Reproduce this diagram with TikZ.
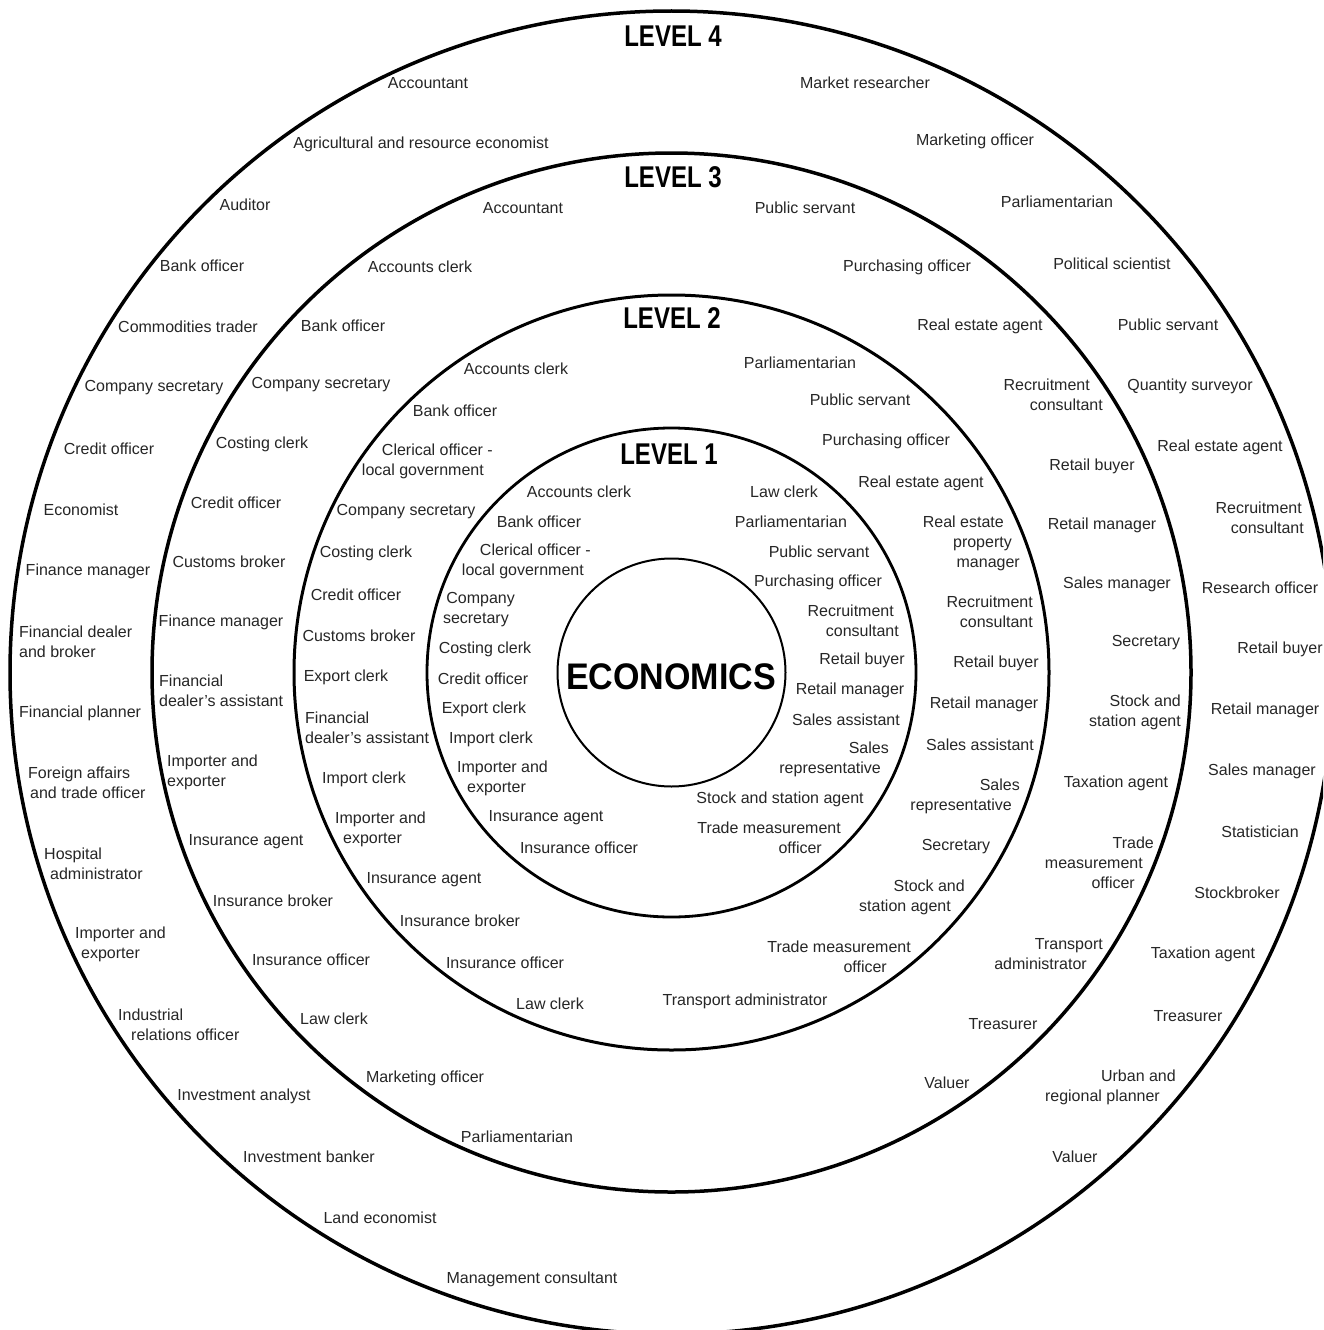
\documentclass[tikz,border=0pt]{standalone}
\usepackage{fontspec}
\usepackage{graphicx}
\setmainfont{Liberation Sans}
\tikzset{
  lab/.style={font=\fontsize{16}{20}\selectfont, inner sep=0pt, text=black!85},
  labl/.style={lab, anchor=west, align=left},
  labr/.style={lab, anchor=east, align=right},
  lvl/.style={font=\bfseries\fontsize{30}{30}\selectfont, inner sep=0pt},
  ring/.style={draw=black},
}
\newcommand{\lvltext}[1]{\scalebox{0.8}[1]{#1}}
\newcommand{\rpad}[2]{\mbox{#2\hspace{#1}}}
\newcommand{\lpad}[2]{\mbox{\hspace{#1}#2}}
\begin{document}
\begin{tikzpicture}[x=1pt,y=-1pt]
\useasboundingbox (0,0) rectangle (1323,1330);
\clip (0,0) rectangle (1323,1330);
\fill[white] (0,0) rectangle (1323,1330);
\coordinate (O) at (671.5,672.5);
% rings
\draw[ring, line width=3.5pt] (O) circle (661.5);
\draw[ring, line width=3.5pt] (O) circle (519.5);
\draw[ring, line width=3pt] (O) circle (377.5);
\draw[ring, line width=2.8pt] (O) circle (244.5);
\draw[ring, line width=2pt] (O) circle (114);
% headings
\node[lvl] (lv4) at (673,36) {\lvltext{LEVEL 4}};
\node[lvl] (lv3) at (673,177) {\lvltext{LEVEL 3}};
\node[lvl] (lv2) at (672,318) {\lvltext{LEVEL 2}};
\node[lvl] (lv1) at (669,454) {\lvltext{LEVEL 1}};
\node[font=\bfseries\fontsize{37}{37}\selectfont, inner sep=0pt] (econ) at (671,677) {\scalebox{0.92}[1]{ECONOMICS}};
% ---------- Level 4 left
\node[lab] (a1) at (428,83) {Accountant};
\node[lab] (a2) at (421,144) {Agricultural and resource economist};
\node[lab] (a3) at (245,205) {Auditor};
\node[lab] (a4) at (202,266) {Bank officer};
\node[lab] (a5) at (188,327) {Commodities trader};
\node[lab] (a6) at (154,388) {Company secretary};
\node[lab] (a7) at (109,449) {Credit officer};
\node[lab] (a8) at (81,510) {Economist};
\node[lab] (a9) at (88,571) {Finance manager};
\node[labl] (a10) at (19,642) {Financial dealer\\and broker};
\node[labl] (a11) at (19,713) {Financial planner};
\node[labl] (a12) at (28,783) {Foreign affairs\\\lpad{2pt}{and trade officer}};
\node[labl] (a13) at (44,864) {Hospital\\\lpad{6pt}{administrator}};
\node[labl] (a14) at (75,944) {Importer and\\\lpad{6pt}{exporter}};
\node[labl] (a15) at (118,1025) {Industrial\\\lpad{13pt}{relations officer}};
\node[lab] (a16) at (244,1096) {Investment analyst};
\node[lab] (a17) at (309,1157) {Investment banker};
\node[lab] (a18) at (380,1218) {Land economist};
\node[lab] (a19) at (532,1279) {Management consultant};
% ---------- Level 4 right
\node[lab] (b1) at (865,83) {Market researcher};
\node[lab] (b2) at (975,141) {Marketing officer};
\node[lab] (b3) at (1057,202) {Parliamentarian};
\node[lab] (b4) at (1112,264) {Political scientist};
\node[lab] (b5) at (1168,325) {Public servant};
\node[lab] (b6) at (1190,386) {Quantity surveyor};
\node[lab] (b7) at (1220,447) {Real estate agent};
\node[labr] (b8) at (1304,518) {\rpad{2pt}{Recruitment}\\consultant};
\node[lab] (b9) at (1260,588) {Research officer};
\node[lab] (b10) at (1280,649) {Retail buyer};
\node[lab] (b11) at (1265,710) {Retail manager};
\node[lab] (b12) at (1262,771) {Sales manager};
\node[lab] (b13) at (1260,832) {Statistician};
\node[lab] (b14) at (1237,893) {Stockbroker};
\node[lab] (b15) at (1203,954) {Taxation agent};
\node[lab] (b16) at (1188,1016) {Treasurer};
\node[labr] (b17) at (1176,1087) {Urban and\\\rpad{16pt}{regional planner}};
\node[lab] (b18) at (1075,1157) {Valuer};
% ---------- Level 3 left
\node[lab] (c1) at (523,208) {Accountant};
\node[lab] (c2) at (420,267) {Accounts clerk};
\node[lab] (c3) at (343,326) {Bank officer};
\node[lab] (c4) at (321,385) {Company secretary};
\node[lab] (c5) at (262,444) {Costing clerk};
\node[lab] (c6) at (236,503) {Credit officer};
\node[lab] (c7) at (229,562) {Customs broker};
\node[lab] (c8) at (221,622) {Finance manager};
\node[labl] (c9) at (159,691) {Financial\\dealer’s assistant};
\node[labl] (c10) at (167,772) {Importer and\\exporter};
\node[lab] (c11) at (246,842) {Insurance agent};
\node[lab] (c12) at (273,901) {Insurance broker};
\node[lab] (c13) at (311,960) {Insurance officer};
\node[lab] (c14) at (334,1019) {Law clerk};
\node[lab] (c15) at (425,1078) {Marketing officer};
\node[lab] (c16) at (517,1137) {Parliamentarian};
% ---------- Level 3 right
\node[lab] (d1) at (805,208) {Public servant};
\node[lab] (d2) at (907,267) {Purchasing officer};
\node[lab] (d3) at (980,326) {Real estate agent};
\node[labr] (d4) at (1103,395) {\rpad{13pt}{Recruitment}\\consultant};
\node[lab] (d5) at (1092,466) {Retail buyer};
\node[lab] (d6) at (1102,525) {Retail manager};
\node[lab] (d7) at (1117,584) {Sales manager};
\node[lab] (d8) at (1146,643) {Secretary};
\node[labr] (d9) at (1181,712) {Stock and\\station agent};
\node[lab] (d10) at (1116,783) {Taxation agent};
\node[labr] (d11) at (1154,863) {Trade\\\rpad{11pt}{measurement}\\\rpad{19pt}{officer}};
\node[labr] (d12) at (1103,954) {Transport\\\rpad{16pt}{administrator}};
\node[lab] (d13) at (1003,1024) {Treasurer};
\node[lab] (d14) at (947,1083) {Valuer};
% ---------- Level 2 left
\node[lab] (e1) at (516,369) {Accounts clerk};
\node[lab] (e2) at (455,411) {Bank officer};
\node[labr] (e3) at (493,461) {Clerical officer -\\\rpad{9pt}{local government}};
\node[lab] (e4) at (406,512) {Company secretary};
\node[lab] (e5) at (366,553) {Costing clerk};
\node[lab] (e6) at (356,595) {Credit officer};
\node[lab] (e7) at (359,636) {Customs broker};
\node[lab] (e8) at (346,677) {Export clerk};
\node[labl] (e9) at (305,728) {Financial\\dealer’s assistant};
\node[lab] (e10) at (364,779) {Import clerk};
\node[labl] (e11) at (335,829) {Importer and\\\lpad{8pt}{exporter}};
\node[lab] (e12) at (424,880) {Insurance agent};
\node[lab] (e13) at (460,921) {Insurance broker};
\node[lab] (e14) at (505,963) {Insurance officer};
\node[lab] (e15) at (550,1004) {Law clerk};
% ---------- Level 2 right
\node[lab] (f1) at (800,363) {Parliamentarian};
\node[lab] (f2) at (860,400) {Public servant};
\node[lab] (f3) at (886,441) {Purchasing officer};
\node[lab] (f4) at (921,483) {Real estate agent};
\node[labr] (f5) at (1020,543) {\rpad{16pt}{Real estate}\\\rpad{8pt}{property}\\manager};
\node[labr] (f6) at (1033,612) {Recruitment\\consultant};
\node[lab] (f7) at (996,663) {Retail buyer};
\node[lab] (f8) at (984,704) {Retail manager};
\node[lab] (f9) at (980,745) {Sales assistant};
\node[labr] (f10) at (1020,796) {Sales\\\rpad{8pt}{representative}};
\node[lab] (f11) at (956,847) {Secretary};
\node[labr] (f12) at (965,897) {Stock and\\\rpad{14pt}{station agent}};
\node[labr] (f13) at (911,957) {Trade measurement\\\rpad{24pt}{officer}};
\node[lab] (f14) at (745,1001) {Transport administrator};
% ---------- Level 1 left
\node[lab] (g1) at (579,492) {Accounts clerk};
\node[lab] (g2) at (539,522) {Bank officer};
\node[labr] (g3) at (591,561) {Clerical officer -\\\rpad{7pt}{local government}};
\node[labr] (g4) at (515,610) {Company\\\rpad{6pt}{secretary}};
\node[lab] (g5) at (485,649) {Costing clerk};
\node[lab] (g6) at (483,679) {Credit officer};
\node[lab] (g7) at (484,709) {Export clerk};
\node[lab] (g8) at (491,739) {Import clerk};
\node[labl] (g9) at (457,778) {Importer and\\\lpad{10pt}{exporter}};
\node[lab] (g10) at (546,818) {Insurance agent};
\node[lab] (g11) at (579,848) {Insurance officer};
% ---------- Level 1 right
\node[lab] (h1) at (784,492) {Law clerk};
\node[lab] (h2) at (791,522) {Parliamentarian};
\node[lab] (h3) at (819,552) {Public servant};
\node[lab] (h4) at (818,582) {Purchasing officer};
\node[labr] (h5) at (899,621) {\rpad{5pt}{Recruitment}\\consultant};
\node[lab] (h6) at (862,660) {Retail buyer};
\node[lab] (h7) at (850,690) {Retail manager};
\node[lab] (h8) at (846,720) {Sales assistant};
\node[labr] (h9) at (889,759) {Sales\\\rpad{8pt}{representative}};
\node[lab] (h10) at (780,799) {Stock and station agent};
\node[labr] (h11) at (841,838) {Trade measurement\\\rpad{19pt}{officer}};
\end{tikzpicture}
\end{document}
